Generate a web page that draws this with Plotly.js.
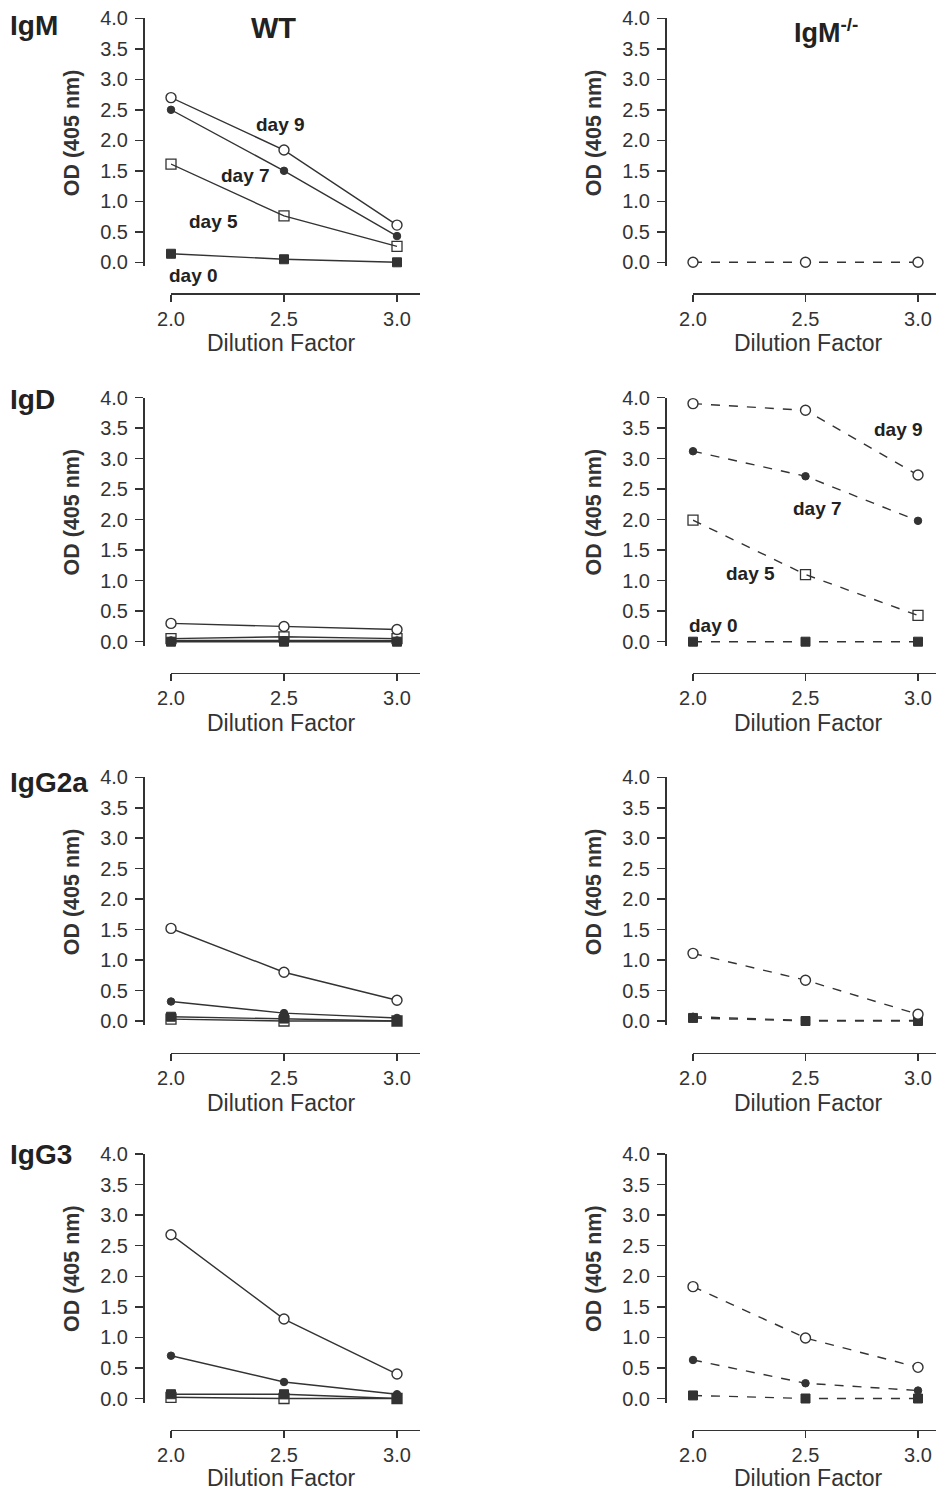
<!DOCTYPE html>
<html><head><meta charset="utf-8">
<script src="https://cdn.plot.ly/plotly-3.0.1.min.js"></script>
<style>html,body{margin:0;padding:0;background:#fff}#chart{width:936px;height:1493px}</style>
</head><body><div id="chart"></div>
<script>
// ---- data ----
const dilution = [2.0, 2.5, 3.0];
const yTicks = [0, 0.5, 1.0, 1.5, 2.0, 2.5, 3.0, 3.5, 4.0];
const yTickText = ["0.0","0.5","1.0","1.5","2.0","2.5","3.0","3.5","4.0"];
const xTickText = ["2.0","2.5","3.0"];
const rowLabels = ["IgM", "IgD", "IgG2a", "IgG3"];
const colLabels = ["WT", "IgM<sup>-/-</sup>"];
const dayNames = ["day 0", "day 5", "day 7", "day 9"];

// WT
const wtIgM_d0 = [0.14, 0.05, 0.0];
const wtIgM_d5 = [1.61, 0.76, 0.26];
const wtIgM_d7 = [2.50, 1.50, 0.43];
const wtIgM_d9 = [2.70, 1.84, 0.61];
const wtIgD_d0 = [0.0, 0.0, 0.0];
const wtIgD_d5 = [0.05, 0.08, 0.05];
const wtIgD_d7 = [0.02, 0.02, 0.02];
const wtIgD_d9 = [0.30, 0.25, 0.20];
const wtIgG2a_d0 = [0.07, 0.04, 0.0];
const wtIgG2a_d5 = [0.03, 0.0, 0.0];
const wtIgG2a_d7 = [0.32, 0.13, 0.05];
const wtIgG2a_d9 = [1.52, 0.80, 0.34];
const wtIgG3_d0 = [0.07, 0.07, 0.0];
const wtIgG3_d5 = [0.02, 0.0, 0.0];
const wtIgG3_d7 = [0.70, 0.27, 0.07];
const wtIgG3_d9 = [2.68, 1.30, 0.40];
// IgM-/-
const koIgM_d9 = [0.0, 0.0, 0.0];
const koIgD_d0 = [0.0, 0.0, 0.0];
const koIgD_d5 = [1.99, 1.10, 0.43];
const koIgD_d7 = [3.12, 2.71, 1.98];
const koIgD_d9 = [3.90, 3.79, 2.73];
const koIgG2a_d0 = [0.05, 0.0, 0.0];
const koIgG2a_d7 = [0.07, 0.01, 0.01];
const koIgG2a_d9 = [1.11, 0.67, 0.11];
const koIgG3_d0 = [0.05, 0.0, 0.0];
const koIgG3_d7 = [0.63, 0.25, 0.13];
const koIgG3_d9 = [1.83, 0.99, 0.51];

// panels: [row, col, series list {day index, values}]
const panels = [
  {row:0, col:0, series:[[0,wtIgM_d0],[1,wtIgM_d5],[2,wtIgM_d7],[3,wtIgM_d9]]},
  {row:0, col:1, series:[[3,koIgM_d9]]},
  {row:1, col:0, series:[[0,wtIgD_d0],[2,wtIgD_d7],[1,wtIgD_d5],[3,wtIgD_d9]]},
  {row:1, col:1, series:[[0,koIgD_d0],[1,koIgD_d5],[2,koIgD_d7],[3,koIgD_d9]]},
  {row:2, col:0, series:[[1,wtIgG2a_d5],[0,wtIgG2a_d0],[2,wtIgG2a_d7],[3,wtIgG2a_d9]]},
  {row:2, col:1, series:[[2,koIgG2a_d7],[0,koIgG2a_d0],[3,koIgG2a_d9]]},
  {row:3, col:0, series:[[1,wtIgG3_d5],[0,wtIgG3_d0],[2,wtIgG3_d7],[3,wtIgG3_d9]]},
  {row:3, col:1, series:[[0,koIgG3_d0],[2,koIgG3_d7],[3,koIgG3_d9]]}
];

// ---- layout geometry (pixels) ----
const W = 936, H = 1493;
const fx = p => p / W;
const fy = p => 1 - p / H;
const rowTop = [18.3, 397.5, 777.3, 1154];   // y pixel of 4.0
const rowZero = [262.3, 641.7, 1021.0, 1398.5]; // y pixel of 0.0
const rowXAxis = [293.3, 672.7, 1052.7, 1429.5];
const rowXTitleOffset = [50, 50, 50, 48];
const colYAxis = [143, 665];
const colX2 = [171, 693];
const colPPU = [226, 225];
const yMin = -0.066;

const ink = '#333333';
const font = 'Liberation Sans, Arial, Helvetica, sans-serif';
const markerStyles = [
  {symbol:'square', size:9, color:ink, line:{color:ink, width:1}},
  {symbol:'square-open', size:10, color:ink, line:{color:ink, width:1.3}},
  {symbol:'circle', size:7.5, color:ink, line:{color:ink, width:1}},
  {symbol:'circle', size:10, color:'#ffffff', line:{color:ink, width:1.4}}
];

const data = [];
const layout = {
  width: W, height: H,
  margin: {l:0, r:0, t:0, b:0},
  paper_bgcolor: '#fff', plot_bgcolor: 'rgba(0,0,0,0)',
  showlegend: false,
  font: {family: font, color: ink},
  annotations: []
};

panels.forEach((p, i) => {
  const k = i + 1;
  const xa = 'xaxis' + (k === 1 ? '' : k), ya = 'yaxis' + (k === 1 ? '' : k);
  const top = rowTop[p.row], zero = rowZero[p.row];
  const ppu = (zero - top) / 4;
  const x2 = colX2[p.col];
  let xEndPx = x2 + 1.1 * colPPU[p.col];
  if (xEndPx > W) xEndPx = W;
  const xEnd = 2 + (xEndPx - x2) / colPPU[p.col];
  layout[xa] = {
    domain: [fx(x2), fx(xEndPx)], range: [2, xEnd],
    anchor: 'free', position: fy(rowXAxis[p.row]),
    showline: true, linecolor: ink, linewidth: 1.5,
    ticks: 'outside', ticklen: 7, tickwidth: 1.5, tickcolor: ink,
    tickvals: dilution, ticktext: xTickText,
    tickfont: {family: font, size: 20, color: ink},
    showgrid: false, zeroline: false, fixedrange: true
  };
  layout[ya] = {
    domain: [fy(zero - yMin * ppu), fy(top)], range: [yMin, 4],
    anchor: 'free', position: fx(colYAxis[p.col]),
    showline: true, linecolor: ink, linewidth: 1.5,
    ticks: 'outside', ticklen: 8, tickwidth: 1.5, tickcolor: ink,
    tickvals: yTicks, ticktext: yTickText,
    tickfont: {family: font, size: 20, color: ink},
    ticklabelstandoff: 3,
    showgrid: false, zeroline: false, fixedrange: true
  };
  p.series.forEach(([d, vals]) => {
    data.push({
      type: 'scatter', mode: 'lines+markers',
      x: dilution, y: vals, name: dayNames[d],
      xaxis: 'x' + (k === 1 ? '' : k), yaxis: 'y' + (k === 1 ? '' : k),
      cliponaxis: false,
      line: {color: ink, width: 1.4, dash: p.col === 1 ? 'dash' : 'solid'},
      marker: markerStyles[d]
    });
  });
  // axis titles
  layout.annotations.push({
    xref:'paper', yref:'paper', x: fx(colYAxis[p.col] - 71), y: fy(top + 115),
    text: '<b>OD (405 nm)</b>', textangle: -90, showarrow: false,
    xanchor:'center', yanchor:'middle', font: {family: font, size: 21.5, color: ink}
  });
  layout.annotations.push({
    xref:'paper', yref:'paper', x: fx(x2 + 0.5 * colPPU[p.col] - 3 + p.col * 6),
    y: fy(rowXAxis[p.row] + rowXTitleOffset[p.row]),
    text: 'Dilution Factor', showarrow: false,
    xanchor:'center', yanchor:'middle', font: {family: font, size: 23, color: ink}
  });
});

// row labels
const rowLabelY = [24, 399, 781, 1153];
rowLabels.forEach((t, r) => {
  layout.annotations.push({
    xref:'paper', yref:'paper', x: fx(8), y: fy(rowLabelY[r] + 1),
    text: '<b>' + t + '</b>', showarrow: false, xanchor:'left', yanchor:'middle',
    font: {family: font, size: 28, color: '#222'}
  });
});
// column labels
layout.annotations.push({xref:'paper', yref:'paper', x: fx(273), y: fy(28),
  text: '<b>' + colLabels[0] + '</b>', showarrow:false, xanchor:'center', yanchor:'middle',
  font:{family: font, size: 29, color:'#222'}});
layout.annotations.push({xref:'paper', yref:'paper', x: fx(826), y: fy(31),
  text: '<b>' + colLabels[1] + '</b>', showarrow:false, xanchor:'center', yanchor:'middle',
  font:{family: font, size: 27, color:'#222'}});

// day labels (pixel positions)
const dayLabelPos = [
  {t: dayNames[3], x: 280, y: 125}, {t: dayNames[2], x: 245, y: 175},
  {t: dayNames[1], x: 213, y: 222}, {t: dayNames[0], x: 193, y: 275},
  {t: dayNames[3], x: 898, y: 430}, {t: dayNames[2], x: 817, y: 508},
  {t: dayNames[1], x: 750, y: 573}, {t: dayNames[0], x: 713, y: 625}
];
dayLabelPos.forEach(a => {
  layout.annotations.push({xref:'paper', yref:'paper', x: fx(a.x), y: fy(a.y),
    text: '<b>' + a.t + '</b>', showarrow:false, xanchor:'center', yanchor:'middle',
    font:{family: font, size: 19, color:'#222'}});
});

Plotly.newPlot('chart', data, layout, {staticPlot: true, displayModeBar: false});
</script></body></html>
